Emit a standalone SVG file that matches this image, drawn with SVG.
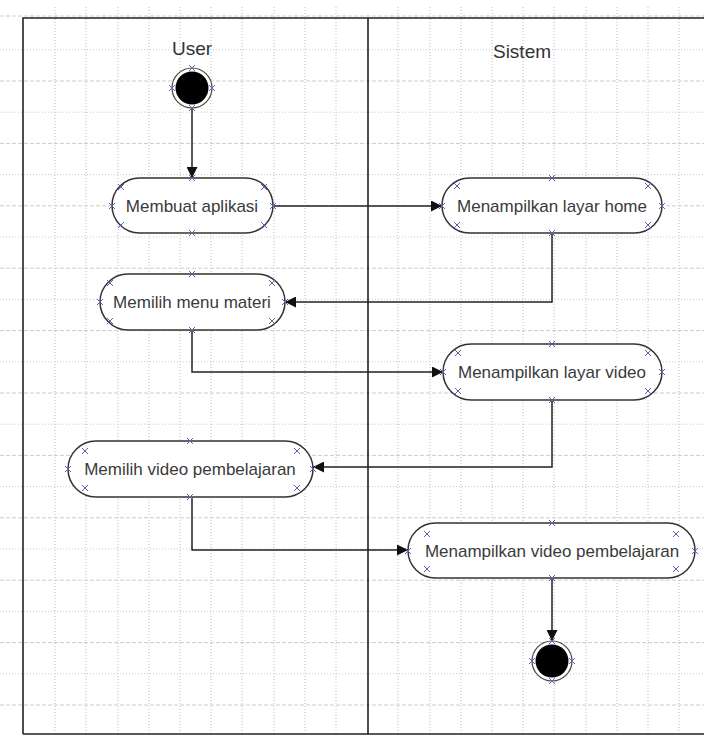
<svg xmlns="http://www.w3.org/2000/svg" width="704" height="736" viewBox="0 0 704 736">
  <style>
    .gridv { stroke: #bdbdbd; stroke-width: 1; stroke-dasharray: 1 2; fill: none; }
    .gridd { stroke: #cdcdcd; stroke-width: 1; stroke-dasharray: 4 2; fill: none; }
    .gridt { stroke: #c8c8c8; stroke-width: 1; stroke-dasharray: 1 2; fill: none; }
    .frame { stroke: #222; stroke-width: 1.6; fill: none; }
    .act { fill: #fff; stroke: #333; stroke-width: 1.5; }
    .lbl { font-family: "Liberation Sans", Arial, sans-serif; font-size: 17px; fill: #3a3a3a; text-anchor: middle; dominant-baseline: central; }
    .lane { font-family: "Liberation Sans", Arial, sans-serif; font-size: 19px; fill: #333; text-anchor: middle; }
    .edge { stroke: #222; stroke-width: 1.5; fill: none; marker-end: url(#arrow); }
    .cp { stroke: #5c63a8; stroke-width: 1; fill: none; }
  </style>
  <defs>
    <marker id="arrow" viewBox="0 0 10 10" refX="10" refY="5" markerWidth="11" markerHeight="11" markerUnits="userSpaceOnUse" orient="auto">
      <path d="M0,0 L10,5 L0,10 z" fill="#111"/>
    </marker>
    <path id="x" d="M-3,-3 L3,3 M-3,3 L3,-3" class="cp"/>
  </defs>

  <rect width="704" height="736" fill="#fff"/>

  <!-- background grid -->
  <g id="grid">
    <path class="gridv" d="M55,7V736 M86,7V736 M118,7V736 M149,7V736 M180,7V736 M211,7V736 M242,7V736 M274,7V736 M305,7V736 M336,7V736 M398,7V736 M430,7V736 M461,7V736 M492,7V736 M523,7V736 M554,7V736 M586,7V736 M617,7V736 M648,7V736 M679,7V736"/>
    <path class="gridd" d="M0,16H704 M0,81H704 M0,143.4H704 M0,205.8H704 M0,268.2H704 M0,330.6H704 M0,393H704 M0,455.4H704 M0,517.8H704 M0,580.2H704 M0,642.6H704 M0,705H704"/>
    <path class="gridt" d="M0,49.8H704 M0,112.2H704 M0,174.6H704 M0,237H704 M0,299.4H704 M0,361.8H704 M0,424.2H704 M0,486.6H704 M0,549H704 M0,611.4H704 M0,673.8H704"/>
  </g>

  <!-- swimlane frame -->
  <g id="lanes">
    <path class="frame" d="M23,734 V18 H704 M368,18 V734 M23,734 H704"/>
    <text class="lane" x="192" y="55">User</text>
    <text class="lane" x="522" y="58">Sistem</text>
  </g>

  <!-- connectors -->
  <g id="connectors">
    <path class="edge" d="M192,108 V178"/>
    <path class="edge" d="M273,206 H442"/>
    <path class="edge" d="M552,233 V302 H285"/>
    <path class="edge" d="M192,330 V372 H443"/>
    <path class="edge" d="M552,400 V467 H313"/>
    <path class="edge" d="M192,498 V550 H408"/>
    <path class="edge" d="M552,578 V641"/>
  </g>

  <!-- initial state -->
  <g id="start">
    <circle cx="192" cy="88" r="20" fill="#fff" stroke="#444" stroke-width="1.2"/>
    <circle cx="192" cy="88" r="16.5" fill="#000"/>
    <use href="#x" x="192" y="68"/><use href="#x" x="192" y="108"/>
    <use href="#x" x="172" y="88"/><use href="#x" x="212" y="88"/>
  </g>

  <g id="membuat-aplikasi">
    <rect class="act" x="112" y="178" width="161" height="55" rx="27.5"/>
    <text class="lbl" x="192" y="206">Membuat aplikasi</text>
    <use href="#x" x="192" y="178"/><use href="#x" x="192" y="233"/>
    <use href="#x" x="112" y="206"/><use href="#x" x="273" y="206"/>
    <use href="#x" x="121" y="187"/><use href="#x" x="264" y="187"/>
    <use href="#x" x="121" y="225"/><use href="#x" x="264" y="225"/>
  </g>

  <g id="layar-home">
    <rect class="act" x="442" y="178" width="220" height="55" rx="27.5"/>
    <text class="lbl" x="552" y="206">Menampilkan layar home</text>
    <use href="#x" x="552" y="178"/><use href="#x" x="552" y="233"/>
    <use href="#x" x="442" y="206"/><use href="#x" x="662" y="206"/>
    <use href="#x" x="457" y="186"/><use href="#x" x="648" y="186"/>
    <use href="#x" x="457" y="225"/><use href="#x" x="648" y="225"/>
  </g>

  <g id="menu-materi">
    <rect class="act" x="100" y="274" width="185" height="56" rx="28"/>
    <text class="lbl" x="192" y="302">Memilih menu materi</text>
    <use href="#x" x="192" y="274"/><use href="#x" x="192" y="330"/>
    <use href="#x" x="100" y="302"/><use href="#x" x="285" y="302"/>
    <use href="#x" x="110" y="283"/><use href="#x" x="272" y="283"/>
    <use href="#x" x="110" y="321"/><use href="#x" x="272" y="321"/>
  </g>

  <g id="layar-video">
    <rect class="act" x="443" y="344" width="219" height="56" rx="28"/>
    <text class="lbl" x="552" y="372">Menampilkan layar video</text>
    <use href="#x" x="552" y="344"/><use href="#x" x="552" y="400"/>
    <use href="#x" x="443" y="372"/><use href="#x" x="662" y="372"/>
    <use href="#x" x="458" y="353"/><use href="#x" x="648" y="353"/>
    <use href="#x" x="458" y="391"/><use href="#x" x="648" y="391"/>
  </g>

  <g id="video-pembelajaran">
    <rect class="act" x="68" y="441" width="245" height="56" rx="28"/>
    <text class="lbl" x="190" y="469">Memilih video pembelajaran</text>
    <use href="#x" x="190" y="441"/><use href="#x" x="190" y="497"/>
    <use href="#x" x="68" y="469"/><use href="#x" x="313" y="469"/>
    <use href="#x" x="85" y="451"/><use href="#x" x="297" y="451"/>
    <use href="#x" x="85" y="488"/><use href="#x" x="297" y="488"/>
  </g>

  <g id="tampil-video">
    <rect class="act" x="408" y="523" width="287" height="55" rx="27.5"/>
    <text class="lbl" x="552" y="551">Menampilkan video pembelajaran</text>
    <use href="#x" x="552" y="523"/><use href="#x" x="552" y="578"/>
    <use href="#x" x="408" y="551"/><use href="#x" x="695" y="551"/>
    <use href="#x" x="427" y="534"/><use href="#x" x="676" y="534"/>
    <use href="#x" x="427" y="569"/><use href="#x" x="676" y="569"/>
  </g>

  <!-- final state -->
  <g id="end">
    <circle cx="552" cy="661" r="20" fill="#fff" stroke="#444" stroke-width="1.2"/>
    <circle cx="552" cy="661" r="16.5" fill="#000"/>
    <use href="#x" x="552" y="641"/><use href="#x" x="552" y="681"/>
    <use href="#x" x="532" y="661"/><use href="#x" x="572" y="661"/>
  </g>
</svg>
